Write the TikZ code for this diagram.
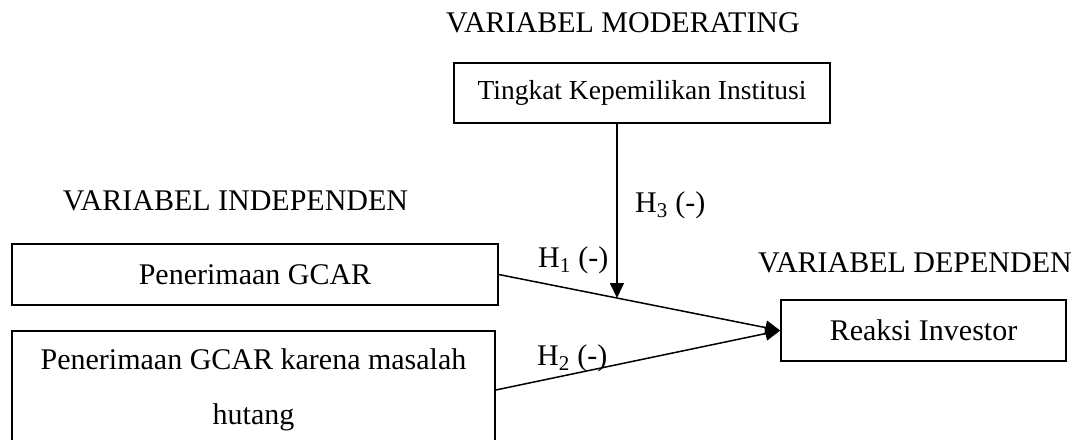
\documentclass[tikz,border=0pt]{standalone}
\usepackage{fontspec}
\setmainfont{Liberation Serif}
\usetikzlibrary{calc,arrows.meta}
\begin{document}
\begin{tikzpicture}[x=1pt,y=-1pt,
  font=\fontsize{30}{36}\selectfont,
  box/.style={draw, line width=1.5pt, inner sep=0pt, align=center},
  conn/.style={line width=1.5pt},
  tip/.style={-{Triangle[length=15pt,width=14pt]}},
  lbl/.style={anchor=base west, inner sep=0pt},
  head/.style={anchor=base, inner sep=0pt}]
\useasboundingbox (0,0) rectangle (1078,439);
\clip (0,0) rectangle (1078,439);

\node[head] (hm) at (623,32) {VARIABEL MODERATING};
\node[head] (hi) at (235.5,210) {VARIABEL INDEPENDEN};
\node[head] (hd) at (915,272) {VARIABEL DEPENDEN};

\node[box, minimum width=376pt, minimum height=60pt, font=\fontsize{27.5}{33}\selectfont] (top) at (642,93) {Tingkat Kepemilikan Institusi};
\node[box, minimum width=486pt, minimum height=61pt] (b1) at (255,274.5) {Penerimaan GCAR};
\node[box, minimum width=483pt, minimum height=118pt, font=\fontsize{30}{55}\selectfont] (b2) at (253.5,390)
  {Penerimaan GCAR karena masalah\\hutang};
\node[box, minimum width=285pt, minimum height=61pt] (rx) at (923.5,330.5) {Reaksi Investor};

\coordinate (m) at ($(b1.east)!0.42!(rx.west)$);
\draw[conn,tip] (b1.east) -- (rx.west);
\draw[conn,tip] (b2.east) -- (rx.west);
\draw[conn,tip] (m |- top.south) -- (m);

\node[lbl] (h3) at (635,212) {H\textsubscript{3} (-)};
\node[lbl] (h1) at (538,267) {H\textsubscript{1} (-)};
\node[lbl] (h2) at (537,365) {H\textsubscript{2} (-)};
\end{tikzpicture}
\end{document}
